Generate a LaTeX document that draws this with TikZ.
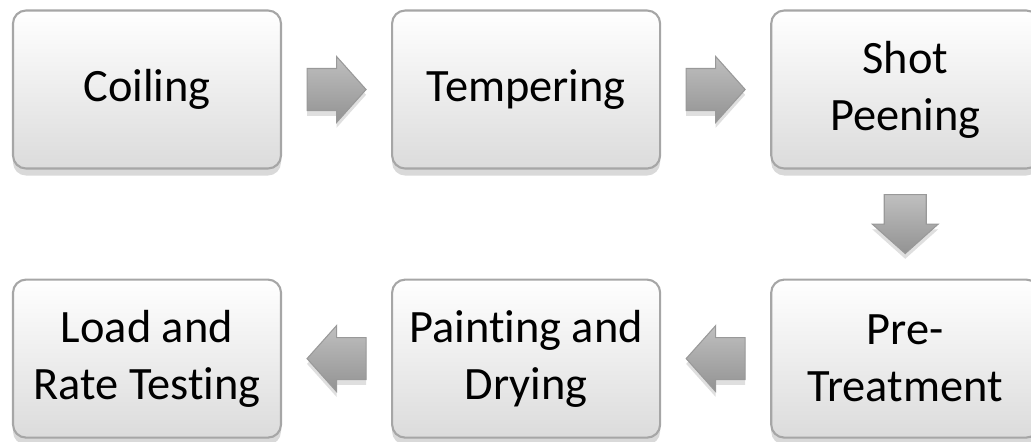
\documentclass[tikz,border=0pt]{standalone}
\usepackage{fontspec}
\setmainfont{Carlito}[Ligatures = NoCommon]
\usetikzlibrary{positioning,shadows,calc}

\begin{document}
\begin{tikzpicture}[
	stage/.style = {rectangle, rounded corners = 1.3mm, draw = gray!70, line width = 0.6pt,
		top color = white, bottom color = gray!28, minimum width = 2.68cm, minimum height = 1.58cm,
		align = center, inner sep = 0pt, font = \fontsize{13.2}{16.2}\selectfont,
		drop shadow = {shadow xshift = 0pt, shadow yshift = -2pt, opacity = 0.3}},
	fatarrow/.pic = {
		\shade [top color = gray!50, bottom color = gray!85, draw = gray!80, line width = 0.3pt,
			drop shadow = {shadow xshift = 0pt, shadow yshift = -1.5pt, opacity = 0.25}]
			(-0.295,-0.21) -- (0,-0.21) -- (0,-0.33) -- (0.295,0) -- (0,0.33) -- (0,0.21)
			-- (-0.295,0.21) -- cycle;
	}
]
	\useasboundingbox (0,0) rectangle (10.31,4.41);
	% top row, left to right
	\node [stage] (coil) at (1.47,3.515) {Coiling};
	\node [stage, right = 1.09cm of coil] (temper) {Tempering};
	\node [stage, right = 1.09cm of temper] (shot) {Shot\\Peening};
	% bottom row, right to left
	\node [stage, below = 1.09cm of shot] (pretreat) {Pre-\\Treatment};
	\node [stage, left = 1.09cm of pretreat] (paint) {Painting and\\Drying};
	\node [stage, left = 1.09cm of paint] (load) {Load and\\Rate Testing};
	% arrows between the stages
	\pic at ($(coil.east)!0.5!(temper.west)$) {fatarrow};
	\pic at ($(temper.east)!0.5!(shot.west)$) {fatarrow};
	\pic [rotate = -90] at ($(shot.south)!0.5!(pretreat.north)$) {fatarrow};
	\pic [rotate = 180] at ($(pretreat.west)!0.5!(paint.east)$) {fatarrow};
	\pic [rotate = 180] at ($(paint.west)!0.5!(load.east)$) {fatarrow};
\end{tikzpicture}
\end{document}
